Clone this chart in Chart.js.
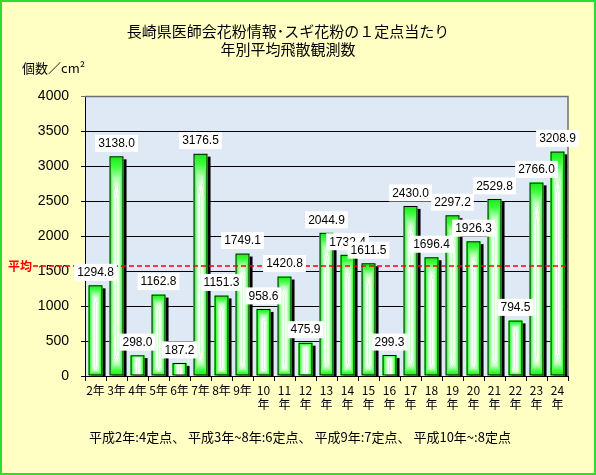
<!DOCTYPE html>
<html><head><meta charset="utf-8">
<script src="https://cdn.jsdelivr.net/npm/chart.js@4.4.0/dist/chart.umd.min.js"></script>
<style>
html,body{margin:0;padding:0;background:#ffffc4;}
canvas{display:block}
</style></head><body>
<canvas id="c" width="596" height="475"></canvas>
<script>
const categories = ['2年','3年','4年','5年','6年','7年','8年','9年',
  ['10','年'],['11','年'],['12','年'],['13','年'],['14','年'],['15','年'],['16','年'],
  ['17','年'],['18','年'],['19','年'],['20','年'],['21','年'],['22','年'],['23','年'],['24','年']];
const values = [1294.8, 3138.0, 298.0, 1162.8, 187.2, 3176.5, 1151.3, 1749.1, 958.6, 1420.8,
  475.9, 2044.9, 1732.4, 1611.5, 299.3, 2430.0, 1696.4, 2297.2, 1926.3, 2529.8, 794.5, 2766.0, 3208.9];
const averageValue = 1570;
const yMin = 0, yMax = 4000, yStep = 500;
const titleLines = ['長崎県医師会花粉情報･スギ花粉の１定点当たり', '年別平均飛散観測数'];
const unitLabel = '個数／cm²';
const averageLabel = '平均';
const footnote = '平成2年:4定点、 平成3年~8年:6定点、 平成9年:7定点、 平成10年~:8定点';

const JP = '"Noto Sans CJK JP", sans-serif';
const LAT = '"Liberation Sans", Arial, sans-serif';

function pathGrad(ctx, l, t, r, b) {
  const cx = (l + r) / 2, h = b - t;
  const s1 = t + 0.2 * h, s2 = b - 0.1 * h;
  const stops = [[0, '#18e818'], [0.25, '#40ff40'], [0.52, '#b8ffb8'], [0.8, '#ffffff'], [1, '#ffffff']];
  const mk = (x0, y0, x1, y1) => { const g = ctx.createLinearGradient(x0, y0, x1, y1); stops.forEach(s => g.addColorStop(s[0], s[1])); return g; };
  const poly = (pts, fill) => { ctx.beginPath(); ctx.moveTo(pts[0][0], pts[0][1]); for (let i = 1; i < pts.length; i++) ctx.lineTo(pts[i][0], pts[i][1]); ctx.closePath(); ctx.fillStyle = fill; ctx.fill(); };
  ctx.fillStyle = '#3cff3c'; ctx.fillRect(l, t, r - l, h);
  poly([[l, t], [cx, s1], [cx, s2], [l, b]], mk(l, 0, cx, 0));
  poly([[r, t], [cx, s1], [cx, s2], [r, b]], mk(r, 0, cx, 0));
  poly([[l, t], [r, t], [cx, s1]], mk(0, t, 0, s1));
  poly([[l, b], [r, b], [cx, s2]], mk(0, b, 0, s2));
}

const deco = {
  id: 'deco',
  beforeDraw(chart) {
    const { ctx, chartArea: a } = chart;
    ctx.save();
    ctx.fillStyle = '#ffffc4'; ctx.fillRect(0, 0, chart.width, chart.height);
    ctx.fillStyle = '#dfe8f5'; ctx.fillRect(a.left, a.top, a.right - a.left, a.bottom - a.top);
    ctx.restore();
  },
  beforeDatasetsDraw(chart) {
    const { ctx, chartArea: a } = chart;
    const meta = chart.getDatasetMeta(0);
    ctx.save();
    ctx.beginPath(); ctx.rect(a.left, a.top, a.right - a.left + 6, a.bottom - a.top); ctx.clip();
    meta.data.forEach(bar => {
      const p = bar.getProps(['x', 'y', 'base', 'width'], true);
      const l = p.x - p.width / 2;
      ctx.fillStyle = '#000';
      ctx.fillRect(l + 3, p.y + 3, p.width, p.base - p.y);
      pathGrad(ctx, l, p.y, l + p.width, p.base);
    });
    ctx.restore();
  },
  afterDatasetsDraw(chart) {
    const { ctx, chartArea: a } = chart;
    ctx.save();
    ctx.strokeStyle = '#707070'; ctx.lineWidth = 1.5;
    ctx.beginPath(); ctx.moveTo(a.left, a.top + 0.5); ctx.lineTo(a.right, a.top + 0.5); ctx.lineTo(a.right, a.bottom); ctx.stroke();
    const ay = chart.scales.y.getPixelForValue(averageValue);
    ctx.strokeStyle = '#ff0000'; ctx.lineWidth = 1.5; ctx.setLineDash([5, 3]);
    ctx.beginPath(); ctx.moveTo(33, ay); ctx.lineTo(a.right, ay); ctx.stroke();
    ctx.setLineDash([]);
    const meta = chart.getDatasetMeta(0);
    ctx.font = '12px ' + LAT;
    ctx.textAlign = 'center'; ctx.textBaseline = 'middle';
    meta.data.forEach((bar, i) => {
      const p = bar.getProps(['x', 'y'], true);
      const txt = values[i].toFixed(1);
      const w = ctx.measureText(txt).width + 6;
      const cy = p.y - 13;
      ctx.fillStyle = '#ffffff'; ctx.fillRect(p.x - w / 2, cy - 8.5, w, 17);
      ctx.fillStyle = '#000'; ctx.fillText(txt, p.x, cy + 0.5);
    });
    ctx.fillStyle = '#ff0000'; ctx.font = 'bold 12px ' + JP;
    ctx.textAlign = 'left';
    ctx.fillText(averageLabel, 8, ay);
    ctx.restore();
  },
  afterDraw(chart) {
    const { ctx } = chart;
    ctx.save();
    ctx.fillStyle = '#000'; ctx.textBaseline = 'middle';
    ctx.font = '13px ' + JP; ctx.textAlign = 'left';
    ctx.fillText(unitLabel, 22, 68);
    ctx.textAlign = 'center';
    ctx.fillText(footnote, 300, 437);
    ctx.strokeStyle = '#2edc2e'; ctx.lineWidth = 2;
    ctx.strokeRect(1, 1, chart.width - 2, chart.height - 2);
    ctx.restore();
  }
};

new Chart(document.getElementById('c'), {
  type: 'bar',
  data: {
    labels: categories,
    datasets: [{
      data: values,
      backgroundColor: 'rgba(0,0,0,0)',
      borderColor: '#000',
      borderWidth: 1,
      borderSkipped: false,
      barPercentage: 0.67,
      categoryPercentage: 1
    }]
  },
  options: {
    responsive: false, animation: false, devicePixelRatio: 1,
    layout: { padding: { left: 8, right: 28, top: 0, bottom: 59 } },
    plugins: {
      legend: { display: false }, tooltip: { enabled: false },
      title: {
        display: true, text: titleLines, color: '#000',
        font: { family: JP, size: 15, weight: 'normal', lineHeight: 1.2 },
        padding: { top: 22, bottom: 38 }
      }
    },
    scales: {
      x: {
        grid: { display: true, drawOnChartArea: false, offset: true, color: '#000', tickLength: 5 },
        border: { color: '#000' },
        ticks: { color: '#000', font: { family: JP, size: 12, lineHeight: 1.2 }, padding: 2, maxRotation: 0, autoSkip: false },
        afterFit(s) { s.height = 40; }
      },
      y: {
        min: yMin, max: yMax,
        ticks: { stepSize: yStep, color: '#000', font: { family: LAT, size: 14 }, padding: 12, callback: v => String(v) },
        grid: { color: c => (c.tick && c.tick.value === yMax) ? '#707070' : '#000', tickLength: 4 },
        border: { color: '#000' },
        afterFit(s) { s.width = 77; }
      }
    }
  },
  plugins: [deco]
});
</script>
</body></html>
